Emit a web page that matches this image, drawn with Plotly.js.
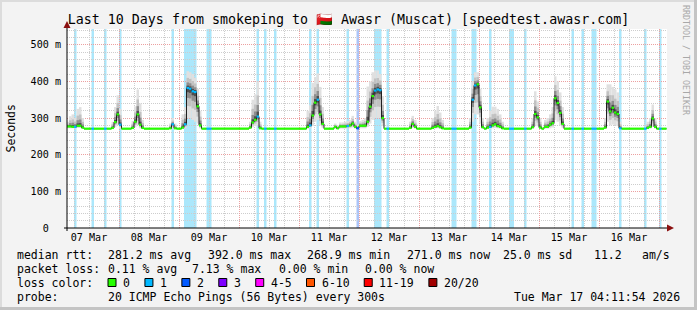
<!DOCTYPE html>
<html><head><meta charset="utf-8">
<script src="https://cdn.plot.ly/plotly-3.0.1.min.js"></script>
<style>html,body{margin:0;padding:0;background:#f3f3f3;}#chart{width:697px;height:310px;}</style>
</head><body><div id="chart"></div>
<script>
// ---------------- data ----------------
const titleText = 'Last 10 Days from smokeping to \u{1F1F4}\u{1F1F2} Awasr (Muscat) [speedtest.awasr.com]';
const hourZero = Date.UTC(2026, 2, 7, 0, 0, 0);   // hours are counted from 07 Mar 2026 00:00
const viewStartH = 3.2, viewEndH = 243.2;
const firstHour = 3, lastHour = 243;
const baselineRtt = 271.0;

// hourly medians (ms) where the rtt left the baseline, with smoke min / max (ms)
const peakHours   = [3,4,5,6,7,8,9, 21,22,23,24, 29,30,31,32,33, 44,45,46,
  49,50,51,52,53,54,55,56, 76,77,78,79,80, 99,100,101,102,103,104,105,
  110,111,112,113,114,115,116,117,118,119,120,121,122, 123,124,125,126,127,128,129,
  140,141,142, 149,150,151,152,153, 164,165,166,167,168,169,
  171,172,173,174,175,176,177, 189,190,191,192, 194,195,196,197,198,199,200,201,
  218,219,220,221,222,223,224, 235,236,237,238];
const peakMedian  = [277,277,276,276,279,279,274, 273,289,310,282, 273,290,310,282,273, 272,283,272,
  274,283,382,380,373,371,332,280, 274,288,295,304,272, 276,280,307,342,350,310,284,
  276,272,277,277,277,278,280,285,276,272,279,279,279, 290,331,360,375,378,376,300,
  273,284,276, 273,276,278,275,272, 274,350,389,392,329,275,
  274,276,280,283,278,276,272, 275,311,302,274, 276,276,282,286,354,341,314,284,
  274,345,318,328,315,311,272, 273,276,299,276];
const peakSmokeLo = [272,272,272,272,273,273,271, 270,275,280,272, 270,275,280,272,270, 270,272,270,
  270,272,300,300,295,290,285,272, 270,275,278,280,270, 271,272,278,290,295,280,273,
  271,270,271,271,271,272,272,274,271,270,272,272,272, 276,285,295,300,300,300,278,
  270,273,271, 270,271,272,271,270, 270,290,310,310,285,271,
  270,271,272,273,272,271,270, 271,280,278,270, 271,271,272,274,295,290,280,273,
  270,290,280,282,280,278,270, 270,271,276,271];
const peakSmokeHi = [290,305,310,300,325,330,300, 290,330,362,325, 292,332,378,340,295, 285,300,285,
  310,330,428,425,420,410,380,320, 290,350,365,400,290, 320,335,396,412,422,385,330,
  285,280,288,288,290,292,295,306,290,282,292,295,300, 386,400,425,430,430,420,360,
  290,306,295, 300,320,333,315,295, 300,400,425,425,380,300,
  300,320,331,331,325,310,290, 300,373,345,300, 295,300,310,330,414,400,370,330,
  300,392,392,385,378,370,290, 290,300,337,300];

// packet-loss intervals (hours, end exclusive) and their loss-colour level
const lossStartH = [6,13,18,24,45,50,59,79,82,86,100,103,115,119,126,131,157,165,172,180,186,205,209,213,224,234,240];
const lossEndH   = [7,14,19,25,46,55,61,80,83,87,101,104,116,120,129,132,159,167,173,182,187,206,210,215,225,235,241];
const lossLevel  = [1,1,1,1,1,1,1,1,1,1,1,1,1,2,1,1,1,1,1,1,1,1,1,1,1,1,1];

const lossLabels  = ['0','1','2','3','4-5','6-10','11-19','20/20'];
const lossColors  = ['#26ff00','#00b8ff','#0059ff','#7e00ff','#ff00ff','#ff5500','#ff0000','#a10000'];
const lossBgColors= ['#ffffff','#abe7fb','#abc4f8','#d2abff','#ffabff','#ffc6ab','#ffabab','#e0abab'];

const yTickVals = [0,100,200,300,400,500];
const yTickText = ['0\u00a0\u00a0','100 m','200 m','300 m','400 m','500 m'];

const rttStats  = ['281.2 ms avg','392.0 ms max','268.9 ms min','271.0 ms now','25.0 ms sd','11.2','am/s'];
const lossStats = ['0.11 % avg','7.13 % max','0.00 % min','0.00 % now'];
const probeText = '20 ICMP Echo Pings (56 Bytes) every 300s';
const stampText = 'Tue Mar 17 04:11:54 2026';

// ---------------- layout geometry (pixels) ----------------
const W = 697, H = 310, PL = 67, PR = 667, PT = 29, PB = 228;
const px = x => (x - PL) / (PR - PL);
const py = y => (PB - y) / (PB - PT);
const MONO = 'DejaVu Sans Mono';
const rttX  = [107.6, 207.6, 306.7, 406.7, 503, 594, 642.2];
const lossX = [107.6, 192.4, 279, 365.3];
const rowY  = [254.5, 268.5, 282.5, 296.5];
const CH = 6.93;

function hd(h) { return new Date(hourZero + h * 3600000).toISOString().slice(0, 19).replace('T', ' '); }

// hourly series
const hrs = [], med = [], lvl = [];
for (let h = firstHour; h < lastHour; h++) {
  hrs.push(h);
  const k = peakHours.indexOf(h);
  med.push(k >= 0 ? peakMedian[k] : baselineRtt);
  let L = 0;
  for (let j = 0; j < lossStartH.length; j++) if (h >= lossStartH[j] && h < lossEndH[j]) L = lossLevel[j];
  lvl.push(L);
}

const traces = [];
// smoke
const smokeShades = [[1.0, '#e0e0e0'], [0.6, '#c2c2c2'], [0.33, '#8e8e8e'], [0.14, '#4e4e4e']];
smokeShades.forEach(([f, c]) => {
  const base = [], ht = [];
  peakHours.forEach((h, k) => {
    const lo = peakMedian[k] - f * (peakMedian[k] - peakSmokeLo[k]);
    const hi = peakMedian[k] + f * (peakSmokeHi[k] - peakMedian[k]);
    base.push(lo); ht.push(hi - lo);
  });
  traces.push({type: 'bar', x: peakHours.map(hd), y: ht, base: base, width: 3600000, offset: 0,
    marker: {color: c, line: {width: 0}}, hoverinfo: 'skip', showlegend: false});
});
// median dark line
traces.push({type: 'scatter', mode: 'lines', x: hrs.map(hd).concat([hd(lastHour)]), y: med.concat([med[med.length - 1]]),
  line: {color: '#202020', width: 1, shape: 'hv'}, hoverinfo: 'skip', showlegend: false});
// loss-coloured median band
lossColors.forEach((c, L) => {
  const xs = [], ys = [];
  let open = false, lastY = null;
  for (let i = 0; i < hrs.length; i++) {
    if (lvl[i] !== L) { open = false; continue; }
    if (open && med[i] === lastY) { xs[xs.length - 1] = hd(hrs[i] + 1); continue; }
    if (xs.length) { xs.push(null); ys.push(null); }
    xs.push(hd(hrs[i]), hd(hrs[i] + 1)); ys.push(med[i], med[i]);
    open = true; lastY = med[i];
  }
  if (xs.length) traces.push({type: 'scatter', mode: 'lines', x: xs, y: ys, connectgaps: false,
    line: {color: c, width: 2.2}, hoverinfo: 'skip', showlegend: false});
});

// shapes
const shapes = [];
lossStartH.forEach((s, j) => shapes.push({type: 'rect', layer: 'below', xref: 'x', yref: 'paper',
  x0: hd(s), x1: hd(lossEndH[j]), y0: 0, y1: 1, fillcolor: lossBgColors[lossLevel[j]], line: {width: 0}}));
// axes with arrows
shapes.push({type: 'line', xref: 'paper', yref: 'paper', x0: px(PL), x1: px(PL), y0: py(PB + 3), y1: py(26), line: {color: '#000', width: 1}, layer: 'above'});
shapes.push({type: 'line', xref: 'paper', yref: 'paper', x0: px(PL - 3), x1: px(670), y0: py(PB), y1: py(PB), line: {color: '#000', width: 1}, layer: 'above'});
shapes.push({type: 'path', xref: 'paper', yref: 'paper', fillcolor: '#8b1010', line: {width: 0}, layer: 'above',
  path: `M${px(667)},${py(224.5)} L${px(674)},${py(228)} L${px(667)},${py(231.5)} Z`});
shapes.push({type: 'path', xref: 'paper', yref: 'paper', fillcolor: '#8b1010', line: {width: 0}, layer: 'above',
  path: `M${px(63.5)},${py(28)} L${px(67)},${py(21)} L${px(70.5)},${py(28)} Z`});
// frame
shapes.push({type: 'rect', xref: 'paper', yref: 'paper', x0: px(0), x1: px(W), y0: py(0), y1: py(2), fillcolor: '#dcdcdc', line: {width: 0}});
shapes.push({type: 'rect', xref: 'paper', yref: 'paper', x0: px(0), x1: px(2), y0: py(0), y1: py(H), fillcolor: '#dcdcdc', line: {width: 0}});
shapes.push({type: 'rect', xref: 'paper', yref: 'paper', x0: px(W - 3), x1: px(W), y0: py(0), y1: py(H), fillcolor: '#c4c4c4', line: {width: 0}});
shapes.push({type: 'rect', xref: 'paper', yref: 'paper', x0: px(0), x1: px(W), y0: py(H - 3), y1: py(H), fillcolor: '#c4c4c4', line: {width: 0}});

// annotations
const ann = [];
const txt = (x, y, t, extra) => ann.push(Object.assign({xref: 'paper', yref: 'paper', x: px(x), y: py(y), text: t,
  showarrow: false, xanchor: 'left', yanchor: 'middle', borderpad: 0, font: {family: MONO, size: 11.5, color: '#000'}}, extra || {}));
txt(15.5, rowY[0], 'median rtt:');
rttStats.forEach((t, i) => txt(rttX[i] - 1, rowY[0], t));
txt(15.5, rowY[1], 'packet loss:');
lossStats.forEach((t, i) => txt(lossX[i] - 1, rowY[1], t));
txt(15.5, rowY[2], 'loss color:');
let sx = 108;
lossLabels.forEach((t, i) => {
  shapes.push({type: 'rect', xref: 'paper', yref: 'paper', x0: px(sx), x1: px(sx + 8), y0: py(rowY[2] - 4), y1: py(rowY[2] + 4),
    fillcolor: lossColors[i], line: {color: '#000', width: 1}});
  txt(sx + 14, rowY[2], t);
  sx += 15 + t.length * CH + 15;
});
txt(15.5, rowY[3], 'probe:');
txt(106.6, rowY[3], probeText);
txt(681, rowY[3], stampText, {xanchor: 'right'});
txt(10, (PT + PB) / 2, 'Seconds', {xanchor: 'center', textangle: -90});
txt(686, 60, 'RRDTOOL / TOBI OETIKER', {xanchor: 'center', textangle: 90, font: {family: MONO, size: 8.3, color: '#a8a8a8'}});

const layout = {
  width: W, height: H, margin: {l: PL, r: W - PR, t: PT, b: H - PB, pad: 0},
  paper_bgcolor: '#f3f3f3', plot_bgcolor: '#ffffff', barmode: 'overlay', showlegend: false,
  title: {text: titleText, x: 0.5, xanchor: 'center', xref: 'container', y: 1 - 19.5 / H, yanchor: 'middle', yref: 'container',
    font: {family: MONO, size: 13.3, color: '#000'}},
  xaxis: {type: 'date', range: [hd(viewStartH), hd(viewEndH)], tickmode: 'linear', tick0: '2026-03-07', dtick: 86400000,
    tickformat: '%d %b', ticklabelmode: 'period', ticks: '', showline: false, zeroline: false,
    showgrid: true, gridcolor: '#eca0a0', griddash: '1px,1px', gridwidth: 1,
    minor: {tick0: '2026-03-07', dtick: 6 * 3600000, showgrid: true, gridcolor: '#cdcdcd', griddash: '1px,1px', gridwidth: 1},
    tickfont: {family: MONO, size: 10.1, color: '#000'}, ticklabelstandoff: 2, fixedrange: true},
  yaxis: {range: [0, 543], tickmode: 'array', tickvals: yTickVals, ticktext: yTickText, ticks: '', showline: false, zeroline: false,
    showgrid: true, gridcolor: '#eca0a0', griddash: '1px,1px', gridwidth: 1,
    minor: {tick0: 0, dtick: 20, showgrid: true, gridcolor: '#cdcdcd', griddash: '1px,1px', gridwidth: 1},
    tickfont: {family: MONO, size: 10.1, color: '#000'}, ticklabelstandoff: 5, fixedrange: true},
  shapes: shapes, annotations: ann
};
Plotly.newPlot('chart', traces, layout, {staticPlot: true, displayModeBar: false});
</script></body></html>
